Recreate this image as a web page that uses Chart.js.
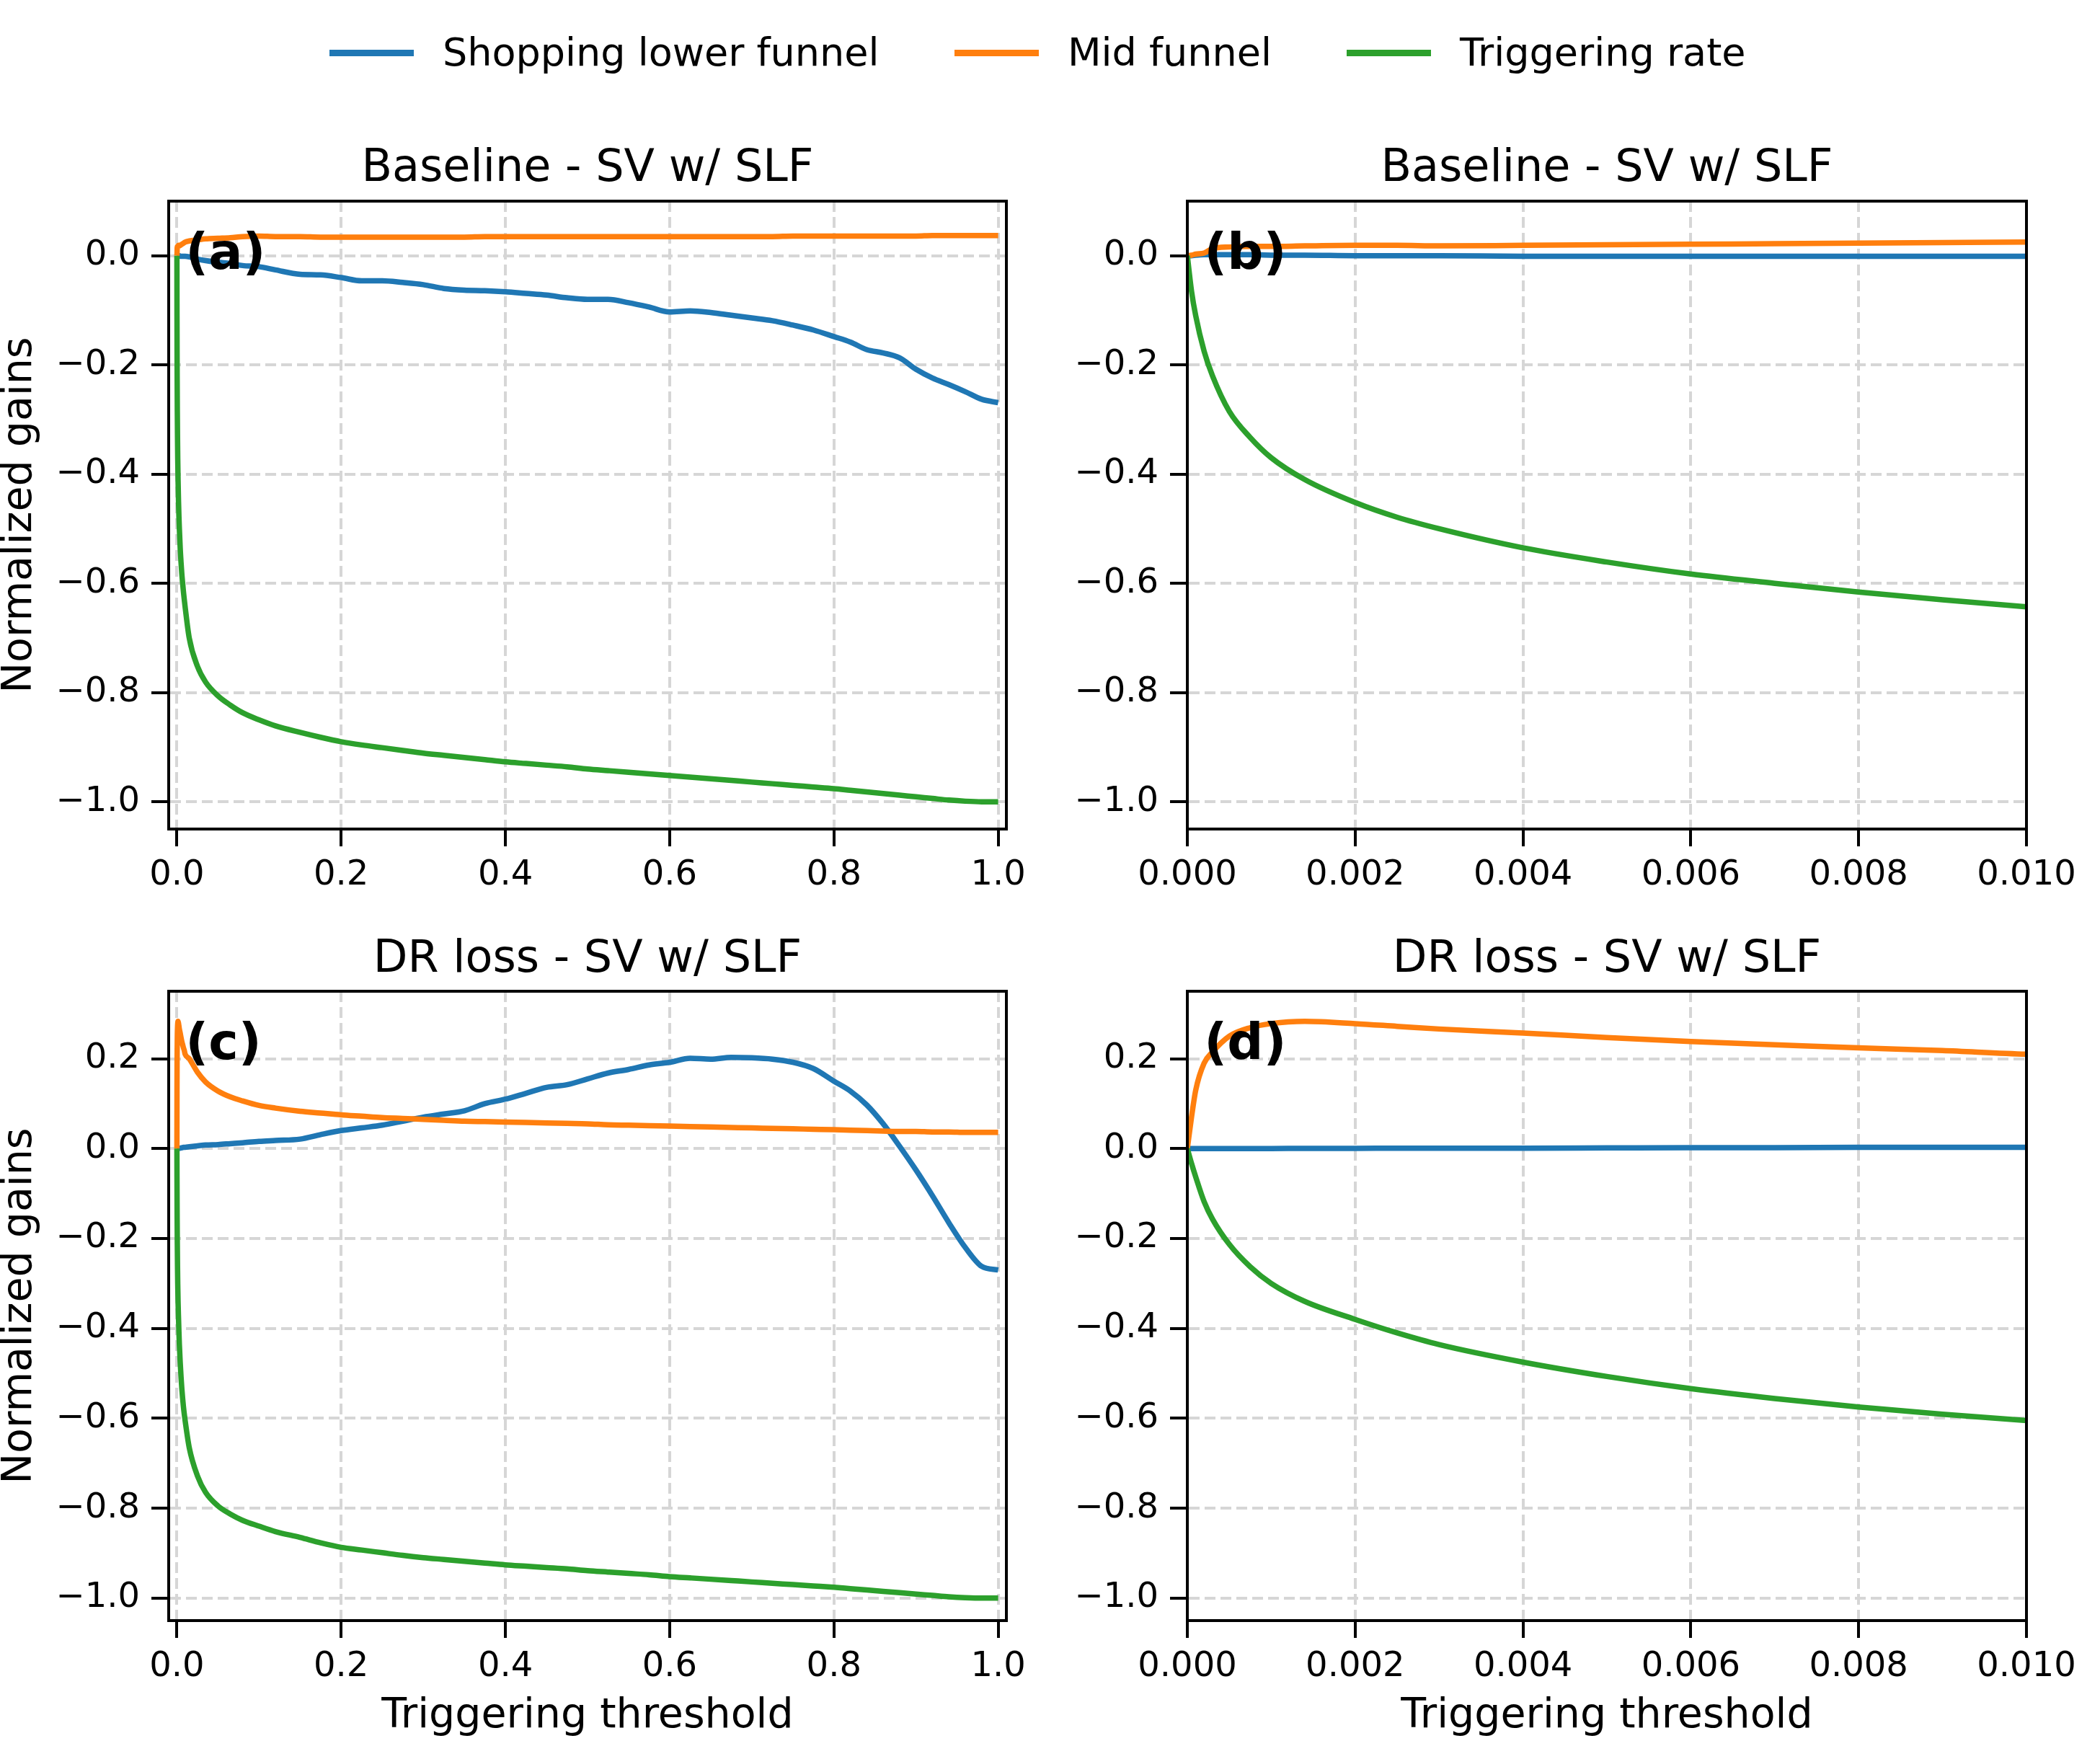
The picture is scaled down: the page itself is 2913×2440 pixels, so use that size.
<!DOCTYPE html>
<html>
<head>
<meta charset="utf-8">
<script src="https://cdn.jsdelivr.net/npm/chart.js@4.4.1/dist/chart.umd.min.js"></script>
<style>
  html, body { margin: 0; padding: 0; background: #fff; overflow: hidden; }
  body { width: 2913px; height: 2440px; position: relative; font-family: "DejaVu Sans", sans-serif; }
  canvas { position: absolute; }
  .lg { position: absolute; top: 40px; height: 66px; display: flex; align-items: center;
        font-size: 54px; line-height: 66px; color: #000; white-space: nowrap; }
  .lg i { display: inline-block; width: 117px; height: 9px; margin-right: 40px; }
</style>
</head>
<body>
<div class="lg" style="left:457px"><i style="background:#1f77b4"></i>Shopping lower funnel</div>
<div class="lg" style="left:1324px"><i style="background:#ff7f0e"></i>Mid funnel</div>
<div class="lg" style="left:1868px"><i style="background:#2ca02c"></i>Triggering rate</div>

<canvas id="pa" width="1440" height="1130" style="left:0;top:150px"></canvas>
<canvas id="pb" width="1433" height="1130" style="left:1480px;top:150px"></canvas>
<canvas id="pc" width="1440" height="1190" style="left:0;top:1250px"></canvas>
<canvas id="pd" width="1433" height="1190" style="left:1480px;top:1250px"></canvas>

<script>
// triggering thresholds (shared x grid)
var thr = [0, 0.00005, 0.0001, 0.0002, 0.0003, 0.0005, 0.00075, 0.001, 0.0014, 0.002,
  0.0025, 0.003, 0.004, 0.005, 0.006, 0.007, 0.008, 0.009, 0.01,
  0.015, 0.025, 0.035, 0.05, 0.065, 0.08, 0.1, 0.12, 0.15, 0.175,
  0.2, 0.225, 0.25, 0.275, 0.3, 0.325, 0.35, 0.375, 0.4, 0.425,
  0.45, 0.475, 0.5, 0.525, 0.55, 0.575, 0.6, 0.625, 0.65, 0.675,
  0.7, 0.725, 0.75, 0.775, 0.8, 0.82, 0.84, 0.86, 0.88, 0.9,
  0.92, 0.94, 0.96, 0.98, 1.0];

// Baseline - SV w/ SLF
var baseSlf = [0, 0, 0.001, 0.002, 0.002, 0.002, 0.002, 0.001, 0.001, 0,
  0, 0, -0.001, -0.001, -0.001, -0.001, -0.001, -0.001, -0.001,
  -0.002, -0.006, -0.009, -0.012, -0.014, -0.018, -0.020, -0.026, -0.034, -0.035,
  -0.040, -0.046, -0.046, -0.049, -0.053, -0.060, -0.063, -0.064, -0.066, -0.069,
  -0.072, -0.077, -0.080, -0.080, -0.086, -0.094, -0.103, -0.101, -0.104, -0.109,
  -0.114, -0.119, -0.127, -0.136, -0.148, -0.158, -0.172, -0.178, -0.187, -0.208,
  -0.224, -0.236, -0.249, -0.263, -0.269];
var baseMid = [0, 0.001, 0.003, 0.005, 0.013, 0.016, 0.017, 0.017, 0.018, 0.019,
  0.019, 0.018, 0.019, 0.020, 0.021, 0.022, 0.023, 0.024, 0.025,
  0.027, 0.029, 0.031, 0.032, 0.033, 0.035, 0.036, 0.035, 0.035, 0.034,
  0.034, 0.034, 0.034, 0.034, 0.034, 0.034, 0.034, 0.035, 0.035, 0.035,
  0.035, 0.035, 0.035, 0.035, 0.035, 0.035, 0.035, 0.035, 0.035, 0.035,
  0.035, 0.035, 0.036, 0.036, 0.036, 0.036, 0.036, 0.036, 0.036, 0.036,
  0.037, 0.037, 0.037, 0.037, 0.037];
var baseTrig = [0, -0.065, -0.11, -0.175, -0.22, -0.285, -0.333, -0.37, -0.41, -0.452,
  -0.479, -0.500, -0.535, -0.561, -0.583, -0.600, -0.616, -0.630, -0.643,
  -0.700, -0.752, -0.781, -0.806, -0.823, -0.837, -0.850, -0.861, -0.873, -0.882,
  -0.89, -0.896, -0.901, -0.906, -0.911, -0.915, -0.919, -0.923, -0.927, -0.93,
  -0.933, -0.936, -0.94, -0.943, -0.946, -0.949, -0.952, -0.955, -0.958, -0.961,
  -0.964, -0.967, -0.97, -0.973, -0.976, -0.979, -0.982, -0.985, -0.988, -0.991,
  -0.994, -0.997, -0.999, -1.0, -1.0];

// DR loss - SV w/ SLF
var drSlf = [0, 0, 0, 0, 0, 0, 0, 0, 0.0005, 0.0005,
  0.001, 0.001, 0.001, 0.0015, 0.002, 0.002, 0.003, 0.003, 0.003,
  0.004, 0.006, 0.008, 0.009, 0.011, 0.013, 0.016, 0.018, 0.021, 0.031,
  0.040, 0.046, 0.052, 0.061, 0.070, 0.077, 0.084, 0.100, 0.110, 0.123,
  0.136, 0.142, 0.155, 0.168, 0.176, 0.186, 0.192, 0.201, 0.199, 0.203,
  0.202, 0.199, 0.192, 0.178, 0.150, 0.128, 0.097, 0.055, 0.005, -0.048,
  -0.105, -0.165, -0.22, -0.262, -0.27];
var drMid = [0, 0.07, 0.13, 0.19, 0.215, 0.25, 0.269, 0.278, 0.283, 0.278,
  0.272, 0.266, 0.257, 0.247, 0.238, 0.231, 0.224, 0.218, 0.21,
  0.2, 0.17, 0.148, 0.128, 0.115, 0.106, 0.096, 0.09, 0.083, 0.079,
  0.075, 0.072, 0.069, 0.067, 0.065, 0.063, 0.061, 0.06, 0.059, 0.058,
  0.057, 0.056, 0.055, 0.053, 0.052, 0.051, 0.05, 0.049, 0.048, 0.047,
  0.046, 0.045, 0.044, 0.043, 0.042, 0.041, 0.04, 0.039, 0.038, 0.038,
  0.037, 0.037, 0.036, 0.036, 0.036];
var drTrig = [0, -0.033, -0.063, -0.118, -0.157, -0.213, -0.263, -0.30, -0.34, -0.38,
  -0.41, -0.436, -0.475, -0.507, -0.534, -0.556, -0.575, -0.591, -0.605,
  -0.665, -0.728, -0.765, -0.795, -0.813, -0.827, -0.84, -0.852, -0.865, -0.877,
  -0.887, -0.893, -0.899, -0.905, -0.91, -0.914, -0.918, -0.922, -0.926, -0.929,
  -0.932, -0.935, -0.939, -0.942, -0.945, -0.948, -0.952, -0.955, -0.958, -0.961,
  -0.964, -0.967, -0.970, -0.973, -0.976, -0.979, -0.982, -0.985, -0.988, -0.991,
  -0.994, -0.997, -0.999, -1.0, -1.0];

// tick values
var xTicksFull = [0, 0.2, 0.4, 0.6, 0.8, 1.0];
var xTicksZoom = [0, 0.002, 0.004, 0.006, 0.008, 0.010];
var yTicksBase = [-1.0, -0.8, -0.6, -0.4, -0.2, 0.0];
var yTicksDr = [-1.0, -0.8, -0.6, -0.4, -0.2, 0.0, 0.2];

var FONT = '"DejaVu Sans", sans-serif';

function pts(ys) {
  return thr.map(function (x, i) { return { x: x, y: ys[i] }; });
}
function fmt(d) {
  return function (v) {
    var s = Math.abs(v) < 1e-12 ? (0).toFixed(d) : v.toFixed(d);
    return s.replace('-', '\u2212');
  };
}

// box around the plot area + panel letter
var frame = {
  id: 'frame',
  afterDatasetsDraw: function (chart, args, opts) {
    var ctx = chart.ctx, a = chart.chartArea;
    ctx.save();
    ctx.lineWidth = 4;
    ctx.strokeStyle = '#000';
    ctx.strokeRect(a.left, a.top, a.right - a.left, a.bottom - a.top);
    ctx.font = 'bold 70px ' + FONT;
    ctx.fillStyle = '#000';
    ctx.textBaseline = 'top';
    ctx.textAlign = 'left';
    ctx.fillText(opts.tag, a.left + 0.02 * (a.right - a.left), a.top + 0.047 * (a.bottom - a.top));
    ctx.restore();
  }
};

function panel(id, p) {
  var ticksFont = { family: FONT, size: 48 };
  return new Chart(document.getElementById(id), {
    type: 'line',
    data: {
      datasets: [
        { label: 'Shopping lower funnel', data: pts(p.slf), borderColor: '#1f77b4', order: 3 },
        { label: 'Mid funnel', data: pts(p.mid), borderColor: '#ff7f0e', order: 2 },
        { label: 'Triggering rate', data: pts(p.trig), borderColor: '#2ca02c', order: 1 }
      ]
    },
    options: {
      responsive: false,
      animation: false,
      devicePixelRatio: 1,
      layout: { padding: { left: 0, right: p.padRight, top: 0, bottom: 0 } },
      elements: {
        line: { borderWidth: 7.5, cubicInterpolationMode: 'monotone', fill: false, borderJoinStyle: 'round' },
        point: { radius: 0, hoverRadius: 0 }
      },
      datasets: { line: { clip: 0 } },
      plugins: {
        legend: { display: false },
        tooltip: { enabled: false },
        title: {
          display: true, text: p.title, fullSize: false, color: '#000',
          font: { family: FONT, size: 62, weight: 'normal' },
          padding: { top: p.titleTop, bottom: p.titleBottom }
        },
        frame: { tag: p.tag }
      },
      scales: {
        x: {
          type: 'linear', min: p.xMin, max: p.xMax,
          afterBuildTicks: function (s) { s.ticks = p.xTicks.map(function (v) { return { value: v }; }); },
          afterFit: function (s) { s.height = p.xAxisH; },
          ticks: { callback: fmt(p.xDec), font: ticksFont, color: '#000', padding: 12, autoSkip: false, maxRotation: 0 },
          grid: { color: '#d6d6d6', lineWidth: 4, tickLength: 24, tickWidth: 4, tickColor: '#000', tickBorderDash: [] },
          border: { display: true, color: '#000', width: 4, dash: [15, 7] },
          title: {
            display: p.xTitle, text: 'Triggering threshold', color: '#000',
            font: { family: FONT, size: 57 }, padding: { top: 0, bottom: 25 }
          }
        },
        y: {
          type: 'linear', min: p.yMin, max: p.yMax,
          afterBuildTicks: function (s) { s.ticks = p.yTicks.map(function (v) { return { value: v }; }); },
          afterFit: function (s) { s.width = p.yAxisW; },
          ticks: { callback: fmt(1), font: ticksFont, color: '#000', padding: 16, autoSkip: false },
          grid: { color: '#d6d6d6', lineWidth: 4, tickLength: 24, tickWidth: 4, tickColor: '#000', tickBorderDash: [] },
          border: { display: true, color: '#000', width: 4, dash: [15, 7] },
          title: {
            display: p.yTitle, text: 'Normalized gains', color: '#000',
            font: { family: FONT, size: 57, lineHeight: 1 }, padding: 0
          }
        }
      }
    },
    plugins: [frame]
  });
}

panel('pa', {
  title: 'Baseline - SV w/ SLF', tag: '(a)', slf: baseSlf, mid: baseMid, trig: baseTrig,
  xMin: -0.01, xMax: 1.01, xTicks: xTicksFull, xDec: 1,
  yMin: -1.05, yMax: 0.1, yTicks: yTicksBase,
  padRight: 44, yAxisW: 234, xAxisH: 130, titleTop: 47.3, titleBottom: 7.3,
  xTitle: false, yTitle: true
});
panel('pb', {
  title: 'Baseline - SV w/ SLF', tag: '(b)', slf: baseSlf, mid: baseMid, trig: baseTrig,
  xMin: 0, xMax: 0.01, xTicks: xTicksZoom, xDec: 3,
  yMin: -1.05, yMax: 0.1, yTicks: yTicksBase,
  padRight: 102, yAxisW: 167, xAxisH: 130, titleTop: 47.3, titleBottom: 7.3,
  xTitle: false, yTitle: false
});
panel('pc', {
  title: 'DR loss - SV w/ SLF', tag: '(c)', slf: drSlf, mid: drMid, trig: drTrig,
  xMin: -0.01, xMax: 1.01, xTicks: xTicksFull, xDec: 1,
  yMin: -1.05, yMax: 0.35, yTicks: yTicksDr,
  padRight: 44, yAxisW: 234, xAxisH: 192, titleTop: 44.8, titleBottom: 5.8,
  xTitle: true, yTitle: true
});
panel('pd', {
  title: 'DR loss - SV w/ SLF', tag: '(d)', slf: drSlf, mid: drMid, trig: drTrig,
  xMin: 0, xMax: 0.01, xTicks: xTicksZoom, xDec: 3,
  yMin: -1.05, yMax: 0.35, yTicks: yTicksDr,
  padRight: 102, yAxisW: 167, xAxisH: 192, titleTop: 44.8, titleBottom: 5.8,
  xTitle: true, yTitle: false
});
</script>
</body>
</html>
